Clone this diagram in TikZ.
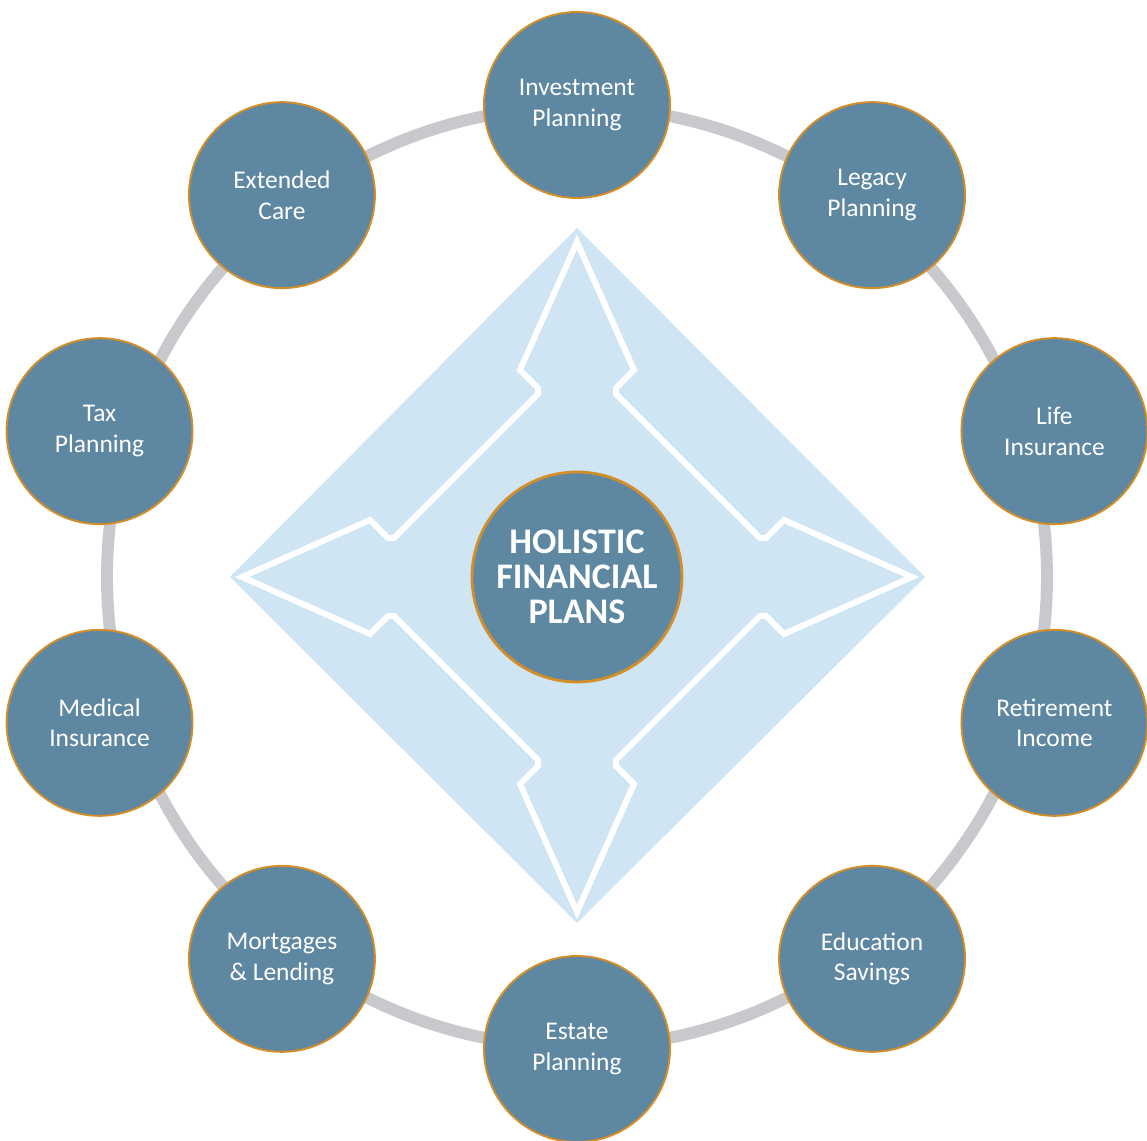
\documentclass[tikz,border=0pt]{standalone}
\usepackage{fontspec}
\setmainfont{Carlito}
\usepackage{xcolor}
\usepackage{tikz}
\definecolor{planblue}{HTML}{5E87A1}
\definecolor{planrim}{HTML}{D38E2A}
\definecolor{ringgray}{HTML}{C8C9CC}
\definecolor{paleblue}{HTML}{CFE5F3}
\tikzset{
	plan node/.style={circle,draw=planrim,line width=1.1pt,fill=planblue,text=white,
		minimum size=3.72cm,inner sep=0pt,align=center,
		font=\fontsize{14.5}{17.5}\selectfont},
	hub node/.style={plan node,minimum size=4.2cm,line width=1.6pt,
		font=\fontsize{20.5}{20}\selectfont\bfseries},
	ring/.style={draw=ringgray,line width=6.8pt},
	star line/.style={draw=white,line width=3.4pt,line join=miter}
}

\begin{document}
\begin{tikzpicture}[x=0.02cm,y=0.02cm]
	\useasboundingbox (-577,-564) rectangle (570,577);
	% ring behind the circles
	\draw[ring] (0,0) circle (470);
	% pale diamond with the four-way arrow
	\fill[paleblue] (0,349) -- (348,0) -- (0,-346) -- (-347,0) -- cycle;
	\draw[star line] (39,183) -- (39,189) -- (57,207) -- (0,335) -- (-57,207) -- (-39,189) -- (-39,183)
		-- (-183,39) -- (-189,39) -- (-207,57) -- (-335,0) -- (-207,-57) -- (-189,-39) -- (-183,-39)
		-- (-39,-183) -- (-39,-189) -- (-57,-207) -- (0,-335) -- (57,-207) -- (39,-189) -- (39,-183)
		-- (183,-39) -- (189,-39) -- (207,-57) -- (335,0) -- (207,57) -- (189,39) -- (183,39) -- cycle;
	\node [hub node] (hub) at (0,0) {HOLISTIC\\FINANCIAL\\PLANS};
	\foreach \ang/\nm/\txt in {90/invest/{Investment\\Planning}, 54/legacy/{Legacy\\Planning},
		18/life/{Life\\Insurance}, -18/retire/{Retirement\\Income}, -54/educ/{Education\\Savings},
		-90/estate/{Estate\\Planning}, -126/mortg/{Mortgages\\\& Lending},
		-162/medic/{Medical\\Insurance}, 162/tax/{Tax\\Planning}, 126/care/{Extended\\Care}}
		\node [plan node] (\nm) at ({502*cos(\ang)},{472*sin(\ang)}) {\txt};
\end{tikzpicture}
\end{document}
